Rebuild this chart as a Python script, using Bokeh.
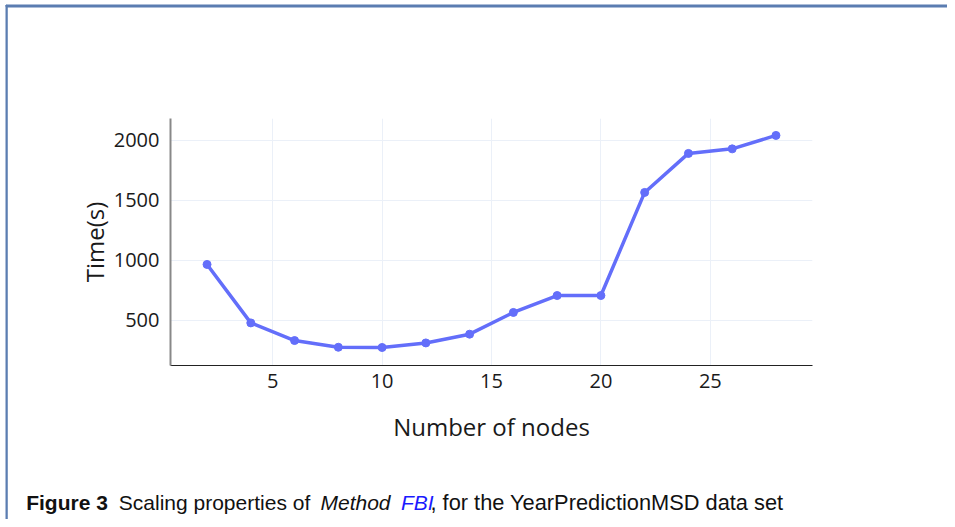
from bokeh.plotting import figure
from bokeh.models import Range1d, FixedTicker, Label
from bokeh.embed import file_html
from bokeh.resources import INLINE

nodes = [2, 4, 6, 8, 10, 12, 14, 16, 18, 20, 22, 24, 26, 28]
times = [967, 480, 333, 277, 275, 313, 386, 567, 708, 708, 1567, 1892, 1930, 2042]
x_ticks = [5, 10, 15, 20, 25]
y_ticks = [500, 1000, 1500, 2000]

W, H = 947, 519
p = figure(width=W, height=H, output_backend="svg", toolbar_location=None,
           x_range=Range1d(0.33, 29.67), y_range=Range1d(125, 2183),
           min_border_left=170, min_border_right=135, min_border_top=118, min_border_bottom=154)
p.outline_line_color = None
p.background_fill_color = "white"
p.border_fill_color = "white"

line_color = "#636efa"
p.line(nodes, times, line_width=3.5, color=line_color)
p.scatter(nodes, times, size=8, color=line_color)

grid_color = "#ebf0f8"
p.xgrid.grid_line_color = grid_color
p.ygrid.grid_line_color = grid_color
p.xaxis.ticker = FixedTicker(ticks=x_ticks)
p.yaxis.ticker = FixedTicker(ticks=y_ticks)
for ax in (p.xaxis, p.yaxis):
    ax.major_tick_line_color = None
    ax.minor_tick_line_color = None
    ax.major_label_text_font = "Open Sans"
    ax.major_label_text_font_size = "20px"
    ax.major_label_text_color = "#1a1a1a"
    ax.axis_label_text_font = "Open Sans"
    ax.axis_label_text_font_size = "24px"
    ax.axis_label_text_font_style = "normal"
    ax.axis_label_text_color = "#1a1a1a"
p.xaxis.axis_label = "Number of nodes"
p.yaxis.axis_label = "Time(s)"
p.xaxis.axis_line_color = "#222222"
p.xaxis.axis_line_width = 1.2
p.yaxis.axis_line_color = "#888888"
p.yaxis.axis_line_width = 2
p.xaxis.major_label_standoff = 2
p.yaxis.major_label_standoff = 5
p.xaxis.axis_label_standoff = 19
p.yaxis.axis_label_standoff = 0

# caption pieces: (text, x, style, colour, font size, side panel)
base = 502
cap = [
    ("Figure 3", 25.7, "bold", "#111111", "21px", "above"),
    ("Scaling properties of", 118.3, "normal", "#111111", "21px", "above"),
    ("Method", 320, "italic", "#111111", "21px", "above"),
    ("FBI", 400.5, "italic", "#1a1aff", "21px", "right"),
    (", for the YearPredictionMSD data set", 430, "normal", "#111111", "21.8px", "below"),
]
for txt, x, style, col, fs, side in cap:
    p.add_layout(Label(x=x, y=base, x_units="canvas", y_units="canvas", text=txt,
                       text_font="Liberation Sans", text_font_size=fs, text_font_style=style,
                       text_color=col, text_baseline="alphabetic", text_align="left"), side)

# page border: thin boxes for the visible left and top edges
border_col = "#5b7db1"
p.add_layout(Label(x=6, y=5, x_units="canvas", y_units="canvas", text=" ", anchor="top_left",
                   text_font_size="1px", padding=(0, 0, 0, 600),
                   border_line_color=border_col, border_line_width=2,
                   background_fill_color=None), "left")
p.add_layout(Label(x=6, y=5, x_units="canvas", y_units="canvas", text=" ", anchor="top_left",
                   text_font_size="1px", padding=(0, 1200, 0, 0),
                   border_line_color=border_col, border_line_width=2,
                   background_fill_color=None), "above")

open("out.html", "w").write(file_html(p, INLINE))
